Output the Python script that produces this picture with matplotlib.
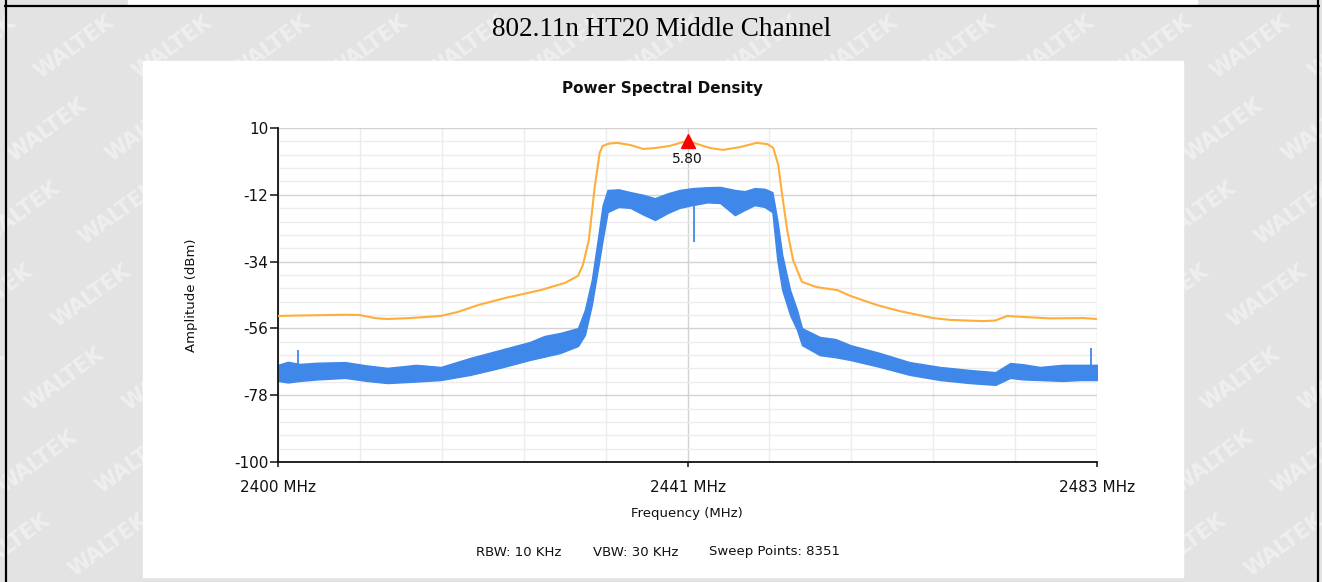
import numpy as np
import matplotlib
matplotlib.use("Agg")
import matplotlib.pyplot as plt
from matplotlib.patches import Rectangle
from matplotlib.ticker import FixedLocator, NullFormatter

# ---------------- data ----------------
orange_freq = [2400.0, 2402.2, 2406.8, 2408.3, 2409.8, 2411.1, 2413.4, 2416.5, 2418.2,
               2420.3, 2423.0, 2426.6, 2429.1, 2430.4, 2430.9, 2431.5, 2432.1, 2432.6,
               2432.9, 2433.6, 2434.4, 2435.7, 2437.0, 2438.2, 2439.7, 2441.5, 2442.8,
               2443.8, 2445.1, 2446.8, 2448.5, 2449.6, 2450.2, 2450.7, 2451.1, 2451.6,
               2452.2, 2453.1, 2454.6, 2456.7, 2458.0, 2460.7, 2463.0, 2466.4, 2468.1,
               2471.4, 2472.7, 2473.9, 2474.9, 2478.2, 2481.6, 2483.0]
orange_dbm = [-51.9, -51.75, -51.5, -51.6, -52.6, -52.9, -52.6, -51.9, -50.6,
              -48.3, -46.0, -43.4, -41.0, -38.7, -35.1, -26.9, -9.4, 1.8,
              4.1, 4.9, 5.1, 4.4, 3.1, 3.4, 4.1, 5.8, 4.4,
              3.4, 2.8, 3.7, 5.1, 4.7, 3.4, -2.2, -12.1, -23.6,
              -33.5, -40.7, -42.4, -43.4, -45.3, -48.3, -50.3, -52.6, -53.2,
              -53.6, -53.4, -51.9, -52.1, -52.7, -52.6, -52.9]

blue_freq = [2400.0, 2401.0, 2402.2, 2404.0, 2406.8, 2409.0, 2411.1, 2414.0, 2416.5,
             2419.5, 2422.5, 2425.5, 2427.0, 2428.6, 2430.4, 2431.1, 2431.8, 2432.4,
             2432.9, 2433.4, 2434.5, 2435.7, 2437.0, 2438.2, 2439.5, 2440.7, 2442.0,
             2443.5, 2444.8, 2446.3, 2447.3, 2448.3, 2449.3, 2450.1, 2450.6, 2451.1,
             2451.9, 2452.6, 2453.1, 2454.9, 2456.5, 2458.0, 2461.0, 2464.0, 2467.1,
             2470.1, 2472.7, 2474.2, 2475.5, 2477.2, 2479.5, 2481.3, 2483.0]
blue_hi = [-68.0, -67.0, -67.7, -67.3, -67.1, -68.2, -69.0, -68.0, -68.7,
           -65.7, -63.1, -60.5, -58.5, -57.5, -55.9, -49.9, -40.1, -26.9,
           -15.4, -10.4, -10.2, -11.1, -12.0, -13.1, -11.5, -10.4, -9.8,
           -9.5, -9.4, -10.4, -10.8, -9.8, -10.0, -11.1, -20.3, -31.8,
           -43.4, -49.9, -55.9, -58.8, -59.5, -61.5, -64.1, -67.1, -68.7,
           -69.7, -70.4, -67.4, -67.8, -68.7, -68.0, -68.0, -68.0]
blue_lo = [-73.3, -73.8, -73.3, -72.8, -72.3, -73.3, -74.0, -73.5, -73.0,
           -71.3, -69.0, -66.4, -65.3, -64.1, -61.8, -58.2, -48.3, -36.8,
           -26.9, -17.7, -16.0, -16.3, -18.5, -20.3, -18.0, -16.3, -15.4,
           -14.5, -14.7, -18.7, -17.0, -15.4, -16.0, -17.7, -33.5, -43.4,
           -51.6, -56.5, -61.5, -64.8, -65.5, -66.4, -68.7, -71.3, -73.0,
           -74.0, -74.6, -72.3, -72.8, -73.0, -73.3, -73.0, -73.0]

spike_freq = [2402.0, 2442.2, 2482.4]
spike_top = [-63.1, -14.0, -62.5]
spike_bottom = [-71.0, -27.5, -71.0]

marker_freq = 2441.5
marker_dbm = 5.80

y_ticks = [10, -12, -34, -56, -78, -100]
x_tick_pos = [2400, 2441.5, 2483]
x_tick_labels = ["2400 MHz", "2441 MHz", "2483 MHz"]
footer_items = ["RBW: 10 KHz", "VBW: 30 KHz", "Sweep Points: 8351"]

# ---------------- figure ----------------
W, H = 1322, 582
fig = plt.figure(figsize=(W / 100, H / 100), dpi=100)

bg = fig.add_axes([0, 0, 1, 1])
bg.set_xlim(0, W)
bg.set_ylim(H, 0)
bg.axis("off")
bg.add_patch(Rectangle((0, 0), W, H, color="#e3e3e3", zorder=0))
bg.add_patch(Rectangle((128, 0), 1069, 4.5, color="white", zorder=0.5))

# watermark lattice
for r in range(-1, 9):
    for k in range(-2, 16):
        x = 74 - 27 * r + 98 * k
        y = 47 + 83 * r
        if -60 < x < W + 60:
            bg.text(x, y, "WALTEK", rotation=36, ha="center", va="center",
                    rotation_mode="anchor", fontsize=15, fontweight="bold",
                    family="DejaVu Sans", color="#efefef", zorder=1, clip_on=True)

# white chart panel
bg.add_patch(Rectangle((143, 61), 1040, 516, color="white", zorder=2))
# table borders
bg.plot([4, 1320], [6, 6], color="black", lw=1.6, zorder=3, solid_capstyle="butt")
bg.plot([6, 6], [0, H], color="black", lw=1.6, zorder=3, solid_capstyle="butt")
bg.plot([1318, 1318], [0, H], color="black", lw=1.6, zorder=3, solid_capstyle="butt")

bg.text(662, 30, "802.11n HT20 Middle Channel", ha="center", va="center",
        family="Liberation Serif", fontsize=19.5, color="black", zorder=4)
bg.text(663, 89, "Power Spectral Density", ha="center", va="center",
        family="DejaVu Sans", fontsize=11, fontweight="bold", color="#111111", zorder=4)
bg.text(192, 295, "Amplitude (dBm)", ha="center", va="center", rotation=90,
        family="DejaVu Sans", fontsize=9.5, color="#111111", zorder=4)
bg.text(687, 513, "Frequency (MHz)", ha="center", va="center",
        family="DejaVu Sans", fontsize=9.5, color="#111111", zorder=4)
for xpos, txt in zip([476, 593, 709], footer_items):
    bg.text(xpos, 552, txt, ha="left", va="center", family="DejaVu Sans",
            fontsize=9.5, color="#111111", zorder=4)

# ---------------- plot area ----------------
L, R, T, B = 278, 1097, 128, 462
ax = fig.add_axes([L / W, 1 - B / H, (R - L) / W, (B - T) / H])
ax.set_facecolor("white")
ax.set_xlim(2400, 2483)
ax.set_ylim(-100, 10)

ax.yaxis.set_major_locator(FixedLocator(y_ticks))
ax.yaxis.set_minor_locator(FixedLocator(np.arange(-100, 10.01, 4.4)))
ax.xaxis.set_major_locator(FixedLocator(x_tick_pos))
ax.xaxis.set_minor_locator(FixedLocator(np.linspace(2400, 2483, 11)))
ax.set_xticklabels(x_tick_labels)
ax.set_yticklabels([str(v) for v in y_ticks])
ax.xaxis.set_minor_formatter(NullFormatter())

ax.grid(which="minor", color="#ececec", lw=1.0, zorder=0)
ax.grid(which="major", color="#d2d2d2", lw=1.0, zorder=0)
ax.set_axisbelow(True)

for s in ["top", "right"]:
    ax.spines[s].set_visible(False)
for s in ["left", "bottom"]:
    ax.spines[s].set_color("#111111")
    ax.spines[s].set_linewidth(1.3)

ax.tick_params(which="minor", length=0)
ax.tick_params(axis="y", which="major", length=5.5, width=1.1, pad=1.5,
               labelsize=11, labelcolor="#111111", color="#111111")
ax.tick_params(axis="x", which="major", length=3.6, width=1.1, pad=9,
               labelsize=11, labelcolor="#111111", color="#111111")
for lab in ax.get_xticklabels() + ax.get_yticklabels():
    lab.set_family("DejaVu Sans")

blue = "#3f88ea"
orange = "#ffad3b"
ax.fill_between(blue_freq, blue_lo, blue_hi, color=blue, lw=1.0, zorder=2)
ax.vlines(spike_freq, spike_bottom, spike_top, color=blue, lw=1.3, zorder=2)
ax.plot(orange_freq, orange_dbm, color=orange, lw=1.5, zorder=3)

ax.plot([marker_freq], [marker_dbm], marker="^", color="red", markersize=10,
        linestyle="none", zorder=5, clip_on=False)
ax.annotate(f"{marker_dbm:.2f}", (marker_freq, marker_dbm), xytext=(0, -8),
            textcoords="offset points", ha="center", va="top", fontsize=10,
            family="DejaVu Sans", color="#111111", zorder=6)

fig.savefig("out.png", dpi=100)
